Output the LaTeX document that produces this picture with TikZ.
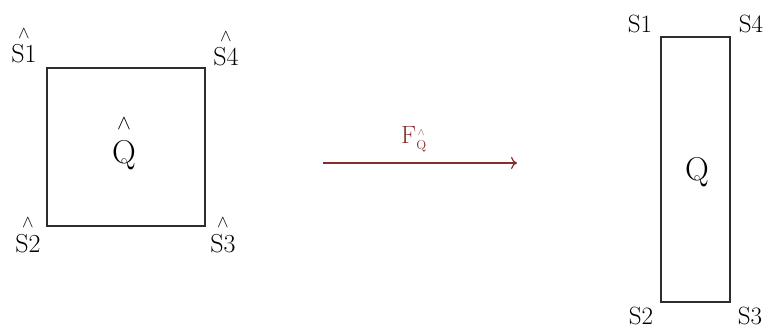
\documentclass[tikz,border=0pt]{standalone}
\usetikzlibrary{arrows.meta}
\definecolor{boxc}{RGB}{45,45,45}
\definecolor{arrc}{RGB}{135,45,45}
\newcommand\hatlbl[3]{\shortstack{\fontsize{#2}{#2}\selectfont$\wedge$\\[#3]#1}}
\begin{document}
\begin{tikzpicture}[x=1pt,y=-1pt,
  boxline/.style={draw=boxc,line width=1.6pt},
  slbl/.style={anchor=base,inner sep=0pt,text=black,font=\fontsize{26}{26}\selectfont},
  rlbl/.style={anchor=base,inner sep=0pt,text=black,font=\fontsize{25}{25}\selectfont},
  qlbl/.style={anchor=base,inner sep=0pt,text=black,font=\fontsize{33}{33}\selectfont},
  maparrow/.style={draw=arrc,line width=1.2pt,-{To[length=6pt,width=12pt]}}]
\useasboundingbox (0,0) rectangle (765,329);
% left square
\draw[boxline] (47,68) rectangle (205,226);
\node[slbl] (s1h) at (24,63) {\hatlbl{S1}{17}{3pt}};
\node[slbl] (s4h) at (226,66) {\hatlbl{S4}{17}{3pt}};
\node[slbl] (s2h) at (28,252) {\hatlbl{S2}{17}{3pt}};
\node[slbl] (s3h) at (223,252) {\hatlbl{S3}{17}{3pt}};
\node[qlbl] (qh) at (124,163) {\hatlbl{Q}{20}{7pt}};
% arrow
\coordinate (a0) at (323,163);
\coordinate (a1) at (517,163);
\draw[maparrow] (a0) -- (a1);
\node[anchor=base west,inner sep=0pt,text=arrc,font=\fontsize{25}{25}\selectfont] (flbl) at (401,143) {F\raisebox{-6pt}{\fontsize{13}{13}\selectfont\hatlbl{Q}{10}{1pt}}};
% right rectangle
\draw[boxline] (661,37) rectangle (730,302);
\node[rlbl] (s1) at (640,33) {S1};
\node[rlbl] (s4) at (751,33) {S4};
\node[rlbl] (s2) at (641,324) {S2};
\node[rlbl] (s3) at (750,324) {S3};
\node[qlbl] (q) at (697,180) {Q};
\end{tikzpicture}
\end{document}
